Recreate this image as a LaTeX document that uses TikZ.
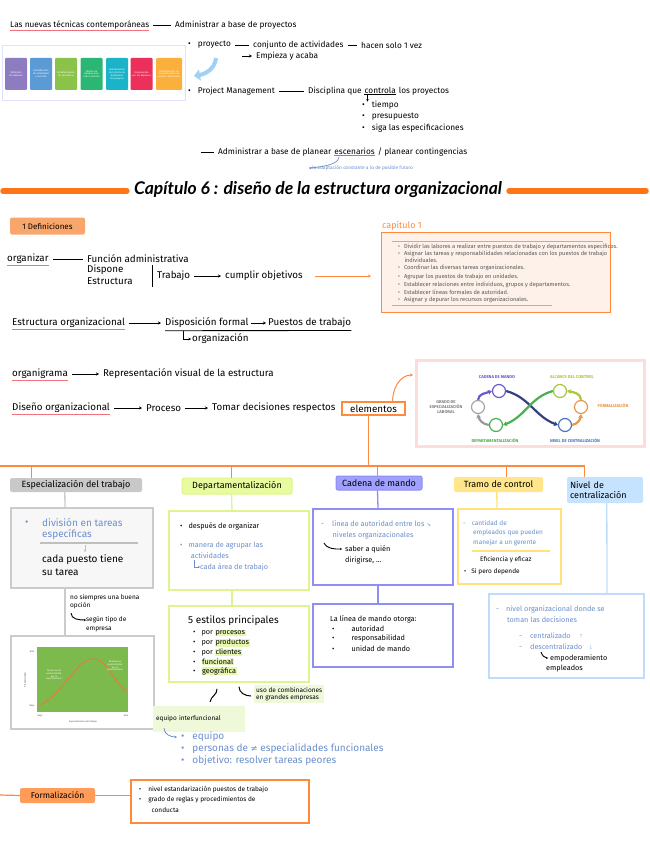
\documentclass[tikz,border=0pt]{standalone}
\usepackage{fontspec}
\setmainfont{Fira Sans}
\newfontfamily\titlefont{Lato}
\newfontfamily\symfont{DejaVu Sans}
\usetikzlibrary{arrows.meta,calc}
\definecolor{orng}{HTML}{FF8A3D}
\definecolor{barorng}{HTML}{FF7414}
\definecolor{deffill}{HTML}{F9A66C}
\definecolor{peach}{HTML}{FDF1E9}
\definecolor{txtblue}{HTML}{6C8FCB}
\definecolor{redu}{HTML}{F2727E}
\definecolor{grayfill}{HTML}{C8C8C8}
\definecolor{grayb}{HTML}{CBCBCB}
\definecolor{greenfill}{HTML}{E9FB9F}
\definecolor{greenb}{HTML}{DDF58C}
\definecolor{greenhl}{HTML}{E6F8B0}
\definecolor{paleg}{HTML}{EFF9DA}
\definecolor{purpfill}{HTML}{A0A0FF}
\definecolor{purpb}{HTML}{8E8EF5}
\definecolor{yellfill}{HTML}{FFE68A}
\definecolor{yellb}{HTML}{FFE27A}
\definecolor{bluefill}{HTML}{C5E2FF}
\definecolor{blueb}{HTML}{BFDDFB}
\definecolor{pinkb}{HTML}{FDDCDC}
\definecolor{lblue}{HTML}{9FD0F5}
\definecolor{chartg}{HTML}{7DBA4E}
\definecolor{chartc}{HTML}{E0803C}
\definecolor{stA}{HTML}{8E7CC3}
\definecolor{stB}{HTML}{5B9BD5}
\definecolor{stC}{HTML}{8BC34A}
\definecolor{stD}{HTML}{2BB673}
\definecolor{stE}{HTML}{1BB3C8}
\definecolor{stF}{HTML}{EC2F5B}
\definecolor{stG}{HTML}{FBB03B}
\definecolor{navy}{HTML}{34407F}
\definecolor{infP}{HTML}{6A5ACD}
\definecolor{infY}{HTML}{A8C83A}
\definecolor{infO}{HTML}{E8964A}
\definecolor{infB}{HTML}{4A78C0}
\definecolor{infG}{HTML}{4CAF50}
\newcommand\rbox[6][]{\node[box,#1,minimum width={(#5-#3)*1pt},minimum height={(#6-#4)*1pt}] (#2) at (#3,#4) {};}
\newcommand\hlt[1]{{\setlength\fboxsep{0.6pt}\colorbox{greenhl}{#1}}}
\tikzset{
  txt/.style={anchor=west, inner sep=0pt, font=\fontsize{8.3}{9.8}\selectfont},
  dtx/.style={anchor=west, inner sep=0pt, font=\fontsize{9.8}{11}\selectfont},
  big/.style={anchor=west, inner sep=0pt, font=\fontsize{10}{11.5}\selectfont},
  mid/.style={anchor=west, inner sep=0pt, font=\fontsize{7.3}{8.3}\selectfont},
  xs/.style={anchor=west, inner sep=0pt, font=\fontsize{6.5}{7.5}\selectfont},
  bt/.style={text=txtblue},
  box/.style={draw, rectangle, anchor=north west, inner sep=0pt, fill=white},
  lnk/.style={line width=0.8pt, shorten <=4pt, shorten >=4pt},
  arr/.style={lnk, -{Stealth[length=3pt,width=3pt]}},
  ul/.style={draw=redu, line width=0.9pt},
  stepbox/.style={rectangle, rounded corners=1pt, minimum width=22pt, minimum height=32pt, text width=20pt, align=center, inner sep=0.5pt, text=white, font=\fontsize{2.4}{2.9}\selectfont},
  catbox/.style={rectangle, rounded corners=2pt, inner sep=0pt, font=\fontsize{9}{10.5}\selectfont},
  orl/.style={draw=orng, line width=1.2pt},
  capt/.style={anchor=west, inner sep=0pt, text=black!65, font=\fontsize{5.7}{6.5}\selectfont},
  ring/.style={circle, draw, fill=white, line width=1.2pt, minimum size=13pt, inner sep=0pt},
  inflab/.style={inner sep=0pt, align=center, font=\bfseries\fontsize{4.2}{5}\selectfont},
  infarr/.style={line width=2.2pt, -{Stealth[length=4pt,width=5pt]}},
  tinyw/.style={inner sep=0pt, align=center, text=white, font=\fontsize{2.3}{2.7}\selectfont},
  tinyk/.style={inner sep=0pt, align=center, text=black!70, font=\fontsize{2.3}{2.7}\selectfont}
}
\begin{document}
\begin{tikzpicture}[x=1pt,y=-1pt]
\useasboundingbox[fill=white] (0,0) rectangle (649,848);

% ---------- top section ----------
\node[txt] (nt) at (10,25) {Las nuevas técnicas contemporáneas};
\draw[ul] ($(nt.south west)+(0,1.5)$) -- ($(nt.south east)+(0,1.5)$);
\node[txt] (ab) at (175,25) {Administrar a base de proyectos};
\draw[lnk] (nt.east) -- (ab.west);

% picture of the steps
\rbox[draw=blue!12, line width=1.2pt]{imgA}{2}{45}{185}{100}
\node[stepbox, fill=stA] (s1) at (16,74) {Definición de objetivos};
\node[stepbox, fill=stB] (s2) at (41,74) {Identificación de actividades y recursos};
\node[stepbox, fill=stC] (s3) at (66,74) {Establecimiento de secuencias};
\node[stepbox, fill=stD] (s4) at (91.5,74) {Cálculo de tiempos para cada actividad};
\node[stepbox, fill=stE] (s5) at (117,74) {Determinación de la fecha de finalización del proyecto};
\node[stepbox, fill=stF] (s6) at (141.5,74) {Comparación con los objetivos};
\node[stepbox, fill=stG, minimum width=26pt, text width=24pt] (s7) at (169,74) {Determinación de requerimientos de recursos adicionales};
\coordinate (ba1) at (216,58);
\coordinate (ba2) at (194,76);
\draw[lblue, line width=4pt, -{Triangle[length=6pt,width=11pt]}] (ba1) to[out=-95,in=10] (ba2);

\node[txt] (pr) at (188,45) {\textbullet\hspace{7pt}proyecto};
\node[txt] (ca) at (253,45) {conjunto de actividades};
\node[txt] (hs) at (361,45) {hacen solo 1 vez};
\draw[lnk] (pr.east) -- (ca.west);
\draw[lnk] (ca.east) -- (hs.west);
\node[txt] (ey) at (256,56) {Empieza y acaba};
\coordinate (eyst) at (238,56);
\draw[arr] (eyst) -- (ey.west);

\node[txt] (pm) at (188,91) {\textbullet\hspace{7pt}Project Management};
\node[txt] (dq1) at (308,91) {Disciplina que};
\node[txt, anchor=base west] (dq2) at ($(dq1.base east)+(2.6pt,0)$) {controla};
\node[txt, anchor=base west] (dq3) at ($(dq2.base east)+(2.6pt,0)$) {los proyectos};
\draw[lnk] (pm.east) -- (dq1.west);
\draw[line width=0.7pt] ($(dq2.south west)+(0,1)$) -- ($(dq2.south east)+(0,1)$);
\coordinate (dqa) at ($(dq2.south west)+(3,1)$);
\coordinate (dqb) at ($(dq2.south west)+(3,8)$);
\draw[line width=0.7pt, -{Stealth[length=2.5pt,width=2.5pt]}] (dqa) -- (dqb);
\node[txt] (l1) at (362,105) {\textbullet\hspace{7pt}tiempo};
\node[txt] (l2) at (362,117) {\textbullet\hspace{7pt}presupuesto};
\node[txt] (l3) at (362,128) {\textbullet\hspace{7pt}siga las especificaciones};

\coordinate (adst) at (197,152);
\node[txt] (ad1) at (218,152) {Administrar a base de planear};
\node[txt, anchor=base west] (ad2) at ($(ad1.base east)+(2.6pt,0)$) {escenarios};
\node[txt, anchor=base west] (ad3) at ($(ad2.base east)+(2.6pt,0)$) {/ planear contingencias};
\draw[lnk] (adst) -- (ad1.west);
\draw[txtblue, line width=0.8pt] ($(ad2.south west)+(0,1.2)$) -- ($(ad2.south east)+(0,1.2)$);
\node[anchor=west, inner sep=0pt, text=txtblue, font=\fontsize{4.8}{5.5}\selectfont] (fut) at (312,168) {la adaptación constante a lo de posible futuro};
\draw[txtblue, line width=0.7pt, -{Stealth[length=2.5pt,width=2.5pt]}] ($(ad2.south west)+(5,2)$) to[out=-90,in=180] (fut.west);

% ---------- title ----------
\node[inner sep=0pt, font=\titlefont\bfseries\itshape\fontsize{17.5}{19}\selectfont] (title) at (318,190) {Capítulo 6 : diseño de la estructura organizacional};
\draw[barorng, line width=5.5pt, line cap=round] ($(title.west)+(-7,1)$) -- (3,191);
\draw[barorng, line width=5.5pt, line cap=round] ($(title.east)+(7,1)$) -- (646,191);

% ---------- definitions ----------
\node[catbox, fill=deffill, minimum width=75pt, minimum height=17pt, font=\fontsize{8}{9}\selectfont] (def) at (47.5,226) {1 Definiciones};
\node[anchor=west, inner sep=0pt, text=orng, font=\fontsize{9}{10}\selectfont] (c1t) at (382,226) {capítulo 1};
\rbox[draw=orng, fill=peach, line width=1.3pt]{cap}{381}{232}{610}{312}
\draw[black!30, line width=0.6pt] ($(cap.north west)+(11,9)$) -- ($(cap.north east)+(-8,9)$);
\draw[black!30, line width=0.6pt] ($(cap.south west)+(11,-8)$) -- ($(cap.south west)+(171,-8)$);
\node[capt] (k1) at (398,247) {\textbullet\hspace{4pt}Dividir las labores a realizar entre puestos de trabajo y departamentos específicos.};
\node[capt] (k2) at (398,254) {\textbullet\hspace{4pt}Asignar las tareas y responsabilidades relacionadas con los puestos de trabajo};
\node[capt] (k2b) at (404.3,260.5) {individuales.};
\node[capt] (k3) at (398,268) {\textbullet\hspace{4pt}Coordinar las diversas tareas organizacionales.};
\node[capt] (k4) at (398,277) {\textbullet\hspace{4pt}Agrupar los puestos de trabajo en unidades.};
\node[capt] (k5) at (398,285) {\textbullet\hspace{4pt}Establecer relaciones entre individuos, grupos y departamentos.};
\node[capt] (k6) at (398,292.5) {\textbullet\hspace{4pt}Establecer líneas formales de autoridad.};
\node[capt] (k7) at (398,300) {\textbullet\hspace{4pt}Asignar y depurar los recursos organizacionales.};

\node[dtx] (org) at (7,259) {organizar};
\draw[ul] ($(org.south west)+(0,1.5)$) -- ($(org.south east)+(0,1.5)$);
\node[dtx] (fa) at (87,259) {Función administrativa};
\node[dtx] (dis) at (87,270) {Dispone};
\node[dtx] (est) at (87,281) {Estructura};
\draw[lnk] (org.east) -- (fa.west);
\coordinate (vb1) at (152,265);
\coordinate (vb2) at (152,287);
\draw[line width=0.8pt] (vb1) -- (vb2);
\node[dtx] (tra) at (157,276) {Trabajo};
\node[dtx] (co) at (225,276) {cumplir objetivos};
\draw[arr] (tra.east) -- (co.west);
\coordinate (coa) at (315,276);
\coordinate (cob) at (371,276);
\draw[orng, line width=1pt, -{Stealth[length=3pt,width=3pt]}] (coa) -- (cob);

\node[dtx] (eo) at (12,323) {Estructura organizacional};
\draw[ul] ($(eo.south west)+(0,1.5)$) -- ($(eo.south east)+(0,1.5)$);
\node[dtx] (df) at (165,323) {Disposición formal};
\node[dtx] (pt) at (268,323) {Puestos de trabajo};
\draw[arr] (eo.east) -- (df.west);
\draw[arr, shorten <=2pt, shorten >=2pt] (df.east) -- (pt.west);
\draw[line width=0.8pt] ($(df.south west)+(0,2.5)$) -- ($(pt.south east)+(0,2.5)$);
\node[dtx] (og2) at (192,339) {organización};
\coordinate (elb) at ($(df.south west)+(18,2.5)$);
\draw[line width=0.8pt, -{Stealth[length=2.5pt,width=2.5pt]}] (elb) |- ($(og2.west)+(-1,0)$);

\node[dtx] (ogm) at (12,374) {organigrama};
\draw[ul] ($(ogm.south west)+(0,1.5)$) -- ($(ogm.south east)+(0,1.5)$);
\node[dtx] (rv) at (103,374) {Representación visual de la estructura};
\draw[arr] (ogm.east) -- (rv.west);

\node[dtx] (dor) at (12,408) {Diseño organizacional};
\draw[ul] ($(dor.south west)+(0,1.5)$) -- ($(dor.south east)+(0,1.5)$);
\node[dtx] (proc) at (146,408) {Proceso};
\node[dtx] (tom) at (212,408) {Tomar decisiones respectos};
\draw[arr] (dor.east) -- (proc.west);
\draw[arr] (proc.east) -- (tom.west);
\node[draw=orng, line width=1.1pt, rectangle, inner sep=0pt, minimum width=63pt, minimum height=13pt, font=\fontsize{9.8}{11}\selectfont] (ele) at (373.5,408.5) {elementos};

% infinity picture
\rbox[draw=pinkb, line width=2.5pt]{imgB}{415}{359}{643}{445}
\draw[orng, line width=1pt, -{Stealth[length=3pt,width=3pt]}] ($(ele.north east)+(-13,0)$) to[out=90,in=180] ($(imgB.north west)+(-2,16)$);
\node[ring, draw=infP] (cm) at (499,391) {};
\node[ring, draw=black!35] (ge) at (478,407) {};
\node[ring, draw=infG] (dp) at (496,425) {};
\node[ring, draw=infY] (ac) at (560,391) {};
\node[ring, draw=infO] (fo) at (581,407) {};
\node[ring, draw=infB] (nc) at (565,425) {};
\draw[infarr, navy] (cm.east) to[out=-15,in=160] (nc.west);
\draw[infarr, infG] (ac.west) to[out=195,in=20] (dp.east);
\draw[infarr, infP] (ge.north) to[out=85,in=200] (cm.west);
\draw[infarr, black!40] (dp.west) to[out=175,in=-80] (ge.south);
\draw[infarr, infO] (nc.east) to[out=10,in=-95] (fo.south);
\draw[infarr, infY] (fo.north) to[out=90,in=-10] (ac.east);
\node[inflab, text=infP] (lcm) at (497,377) {CADENA DE MANDO};
\node[inflab, text=infY] (lac) at (572,377) {ALCANCE DEL CONTROL};
\node[inflab, text=black!50] (lge) at (446,407) {GRADO DE\\ESPECIALIZACIÓN\\LABORAL};
\node[inflab, text=infO] (lfo) at (613,406) {FORMALIZACIÓN};
\node[inflab, text=infG] (ldp) at (495,441) {DEPARTAMENTALIZACIÓN};
\node[inflab, text=infB] (lnc) at (575,441) {NIVEL DE CENTRALIZACIÓN};

% ---------- branching ----------
\coordinate (busL) at (0,466);
\coordinate (busR) at (585,466);
\draw[orl] ($(ele.south)+(-5,0)$) -- ++(0,51);
\draw[orl] (busL) -- (busR);

\node[catbox, fill=grayfill, minimum width=132pt, minimum height=14pt] (c1) at (76,485) {Especialización del trabajo};
\node[catbox, fill=greenfill, draw=greenb, line width=1pt, minimum width=110pt, minimum height=16pt] (c2) at (237,486) {Departamentalización};
\node[catbox, fill=purpfill, draw=purpb, line width=1pt, minimum width=86pt, minimum height=14pt] (c3) at (379,483) {Cadena de mando};
\node[catbox, fill=yellfill, minimum width=89pt, minimum height=15pt] (c4) at (498.5,484.5) {Tramo de control};
\node[catbox, fill=bluefill, minimum width=76pt, minimum height=26pt, align=left, text width=70pt] (c5) at (605,490) {Nivel de\\centralización};
\draw[orl] ($(c1.north west)+(22,0)$) -- ++(0,-12);
\draw[orl] ($(c2.north west)+(50,0)$) -- ++(0,-12);
\draw[orl] ($(c3.north west)+(42,0)$) -- ++(0,-10);
\draw[orl] ($(c4.north west)+(53,0)$) -- ++(0,-11);
\draw[orl] ($(c5.north west)+(18,0)$) -- ++(0,-11);

% ---------- especialización ----------
\rbox[draw=grayb, fill=black!3, line width=1.8pt]{b1}{10}{507}{152}{587}
\draw[grayb, line width=1.3pt] ($(c1.south west)+(55,0)$) -- ($(b1.north west)+(55,0)$);
\node[big, bt] (b1a) at (25,523) {\textbullet};
\node[big, bt] (b1b) at (42,523) {división en tareas};
\node[big, bt] (b1c) at (42,535) {específicas};
\draw[black!25, line width=1.2pt] ($(b1.north west)+(30,36)$) -- ($(b1.north west)+(128,36)$);
\draw[black!25, line width=0.7pt, -{Stealth[length=2pt,width=2.5pt]}] ($(b1.north west)+(75,38)$) -- ($(b1.north west)+(75,45)$);
\node[big] (b1d) at (42,560) {cada puesto tiene};
\node[big] (b1e) at (42,572) {su tarea};

\rbox[draw=grayb, line width=1.8pt]{ch}{10}{635}{153}{728}
\draw[grayb, line width=1.3pt] ($(b1.south west)+(55,0)$) -- ($(ch.north west)+(55,0)$);
\node[xs] (ns1) at (70,598) {no siempres una buena};
\node[xs] (ns2) at (70,606) {opción};
\node[xs] (st1) at (86,620) {según tipo de};
\node[xs] (st2) at (86,629) {empresa};
\coordinate (sta) at (71,613);
\draw[line width=0.9pt, -{Stealth[length=2.2pt,width=2.5pt]}] (sta) to[out=-90,in=180] (st1.west);
\fill[chartg] (37,647) rectangle (128,712);
\draw[chartc, line width=1.1pt] (40,705) .. controls (65,692) and (76,659) .. (93,659) .. controls (108,659) and (114,684) .. (127,691);
\node[tinyw] (cl1) at (54,675) {Ganancias de\\productividad\\por la\\especialización};
\node[tinyw] (cl2) at (115,666) {Pérdidas de\\productividad\\por la\\especialización};
\node[tinyk, rotate=90] (cy) at (25,680) {Productividad};
\node[tinyk] (cx) at (83,722) {Especialización del trabajo};
\node[tinyk] (cyh) at (32,652) {Alta};
\node[tinyk] (cyl) at (32,706) {Baja};
\node[tinyk] (cxl) at (40,716) {Baja};
\node[tinyk] (cxh) at (126,716) {Alta};

% ---------- departamentalización ----------
\rbox[draw=greenb, line width=1.8pt]{b2}{168}{510}{308}{589}
\draw[greenb, line width=1.3pt] ($(c2.south west)+(50,0)$) -- ($(b2.north west)+(64,0)$);
\node[mid] (b2a) at (180,526) {\textbullet\hspace{6pt}después de organizar};
\node[mid, bt] (b2b) at (180,546) {\textbullet\hspace{6pt}manera de agrupar las};
\node[mid, bt] (b2c) at (190.7,556) {actividades};
\node[mid, bt] (b2d) at (200,567) {cada área de trabajo};
\coordinate (b2e) at (194,560);
\draw[txtblue, line width=0.7pt, -{Stealth[length=2pt,width=2.2pt]}] (b2e) |- (b2d.west);

\rbox[draw=greenb, line width=1.8pt]{b3}{168}{605}{308}{681}
\draw[greenb, line width=1.3pt] ($(b2.south west)+(64,0)$) -- ($(b3.north west)+(64,0)$);
\node[big] (b3t) at (188,621) {5 estilos principales};
\node[mid] (e1) at (193,633) {\textbullet\hspace{6pt}por \hlt{procesos}};
\node[mid] (e2) at (193,643) {\textbullet\hspace{6pt}por \hlt{productos}};
\node[mid] (e3) at (193,652.5) {\textbullet\hspace{6pt}por \hlt{clientes}};
\node[mid] (e4) at (193,662) {\textbullet\hspace{6pt}\hlt{funcional}};
\node[mid] (e5) at (193,671) {\textbullet\hspace{6pt}\hlt{geográfica}};

\node[xs, fill=paleg, inner sep=2pt, align=left] (uso) at (254,694) {uso de combinaciones\\en grandes empresas};
\node[xs, fill=paleg, inner sep=0pt, minimum width=92pt, minimum height=26pt, text width=86pt, align=left] (eq) at (153,719) {equipo interfuncional};
\draw[line width=1pt] ($(b3.south west)+(49,6)$) to[out=-85,in=80] ($(eq.north west)+(57,-4)$);
\draw[line width=1pt] ($(b3.south west)+(71,4)$) to[out=-90,in=180] ($(uso.west)+(-3,2)$);
\node[big, bt] (q1) at (181,737) {\textbullet\hspace{8pt}equipo};
\node[big, bt] (q2) at (181,749) {\textbullet\hspace{8pt}personas de {\symfont\fontsize{8.5}{9}\selectfont ≠} especialidades funcionales};
\node[big, bt] (q3) at (181,761) {\textbullet\hspace{8pt}objetivo: resolver tareas peores};
\draw[txtblue, line width=0.8pt, -{Stealth[length=2.5pt,width=2.5pt]}] ($(eq.south west)+(11,-4)$) to[out=-90,in=180] ($(q1.west)+(-4,0)$);

% ---------- cadena de mando ----------
\rbox[draw=purpb, line width=1.8pt]{b4}{312}{508}{452}{584}
\draw[purpb, line width=1.3pt] ($(c3.south west)+(42,0)$) -- ($(b4.north west)+(66,0)$);
\node[mid, bt] (b4a) at (321,524) {-\hspace{8pt}línea de autoridad entre los {\symfont\fontsize{5.5}{6}\selectfont ↘}};
\node[mid, bt] (b4b) at (332.5,535) {niveles organizacionales};
\node[mid] (b4c) at (345,549) {saber a quién};
\node[mid] (b4d) at (345,560) {dirigirse, ...};
\coordinate (b4e) at (324,543);
\draw[line width=0.9pt, -{Stealth[length=2pt,width=2.2pt]}] (b4e) to[out=-60,in=180] ($(b4c.west)+(-3,0)$);

\rbox[draw=purpb, line width=1.8pt]{b5}{312}{603}{452}{666}
\draw[purpb, line width=1.3pt] ($(b4.south west)+(66,0)$) -- ($(b5.north west)+(66,0)$);
\node[mid] (b5a) at (330,619) {La línea de mando otorga:};
\node[mid] (b5b) at (332,628.5) {\textbullet\hspace{17pt}autoridad};
\node[mid] (b5c) at (332,638.5) {\textbullet\hspace{17pt}responsabilidad};
\node[mid] (b5d) at (332,648.5) {\textbullet\hspace{17pt}unidad de mando};

% ---------- tramo de control ----------
\rbox[draw=yellb, line width=1.8pt]{b6}{457}{508}{560}{583}
\draw[yellb, line width=1.3pt] ($(c4.south west)+(43,0)$) -- ($(b6.north west)+(40,0)$);
\node[xs, bt] (b6a) at (463,523) {-\hspace{6pt}cantidad de};
\node[xs, bt] (b6b) at (473,533) {empleados que pueden};
\node[xs, bt] (b6c) at (473,543) {manejar a un gerente};
\draw[yellb, line width=1.5pt] ($(b6.north west)+(15,43)$) -- ($(b6.north west)+(93,43)$);
\node[xs] (b6d) at (480,560) {Eficiencia y eficaz};
\node[xs] (b6e) at (464,572) {\textbullet\hspace{5pt}Si pero depende};

% ---------- nivel de centralización ----------
\rbox[draw=blueb, line width=1.8pt]{b7}{488}{593}{643}{677}
\draw[blueb, line width=1.3pt] ($(c5.south west)+(40,0)$) -- ($(b7.north west)+(119,0)$);
\node[mid, bt] (b7a) at (496,609) {-\hspace{7pt}nivel organizacional donde se};
\node[mid, bt] (b7b) at (507,620) {toman las decisiones};
\node[mid, bt] (b7c) at (519,636) {-\hspace{8pt}centralizado\hspace{8pt}{\symfont\fontsize{6}{6}\selectfont\color{lblue}↑}};
\node[mid, bt] (b7d) at (519,647) {-\hspace{8pt}descentralizado\hspace{6pt}{\symfont\fontsize{6}{6}\selectfont\color{lblue}↓}};
\node[mid] (b7e) at (550,658) {empoderamiento};
\node[mid] (b7f) at (546,669) {empleados};
\coordinate (b7g) at (541,652);
\draw[line width=0.9pt, -{Stealth[length=2pt,width=2.2pt]}] (b7g) to[out=-70,in=180] ($(b7e.west)+(-2,0)$);

% ---------- formalización ----------
\coordinate (fst) at (0,795);
\node[catbox, fill=orng!85, minimum width=75pt, minimum height=15pt, font=\fontsize{8.5}{9.5}\selectfont] (form) at (57.5,795.5) {Formalización};
\rbox[draw=orng, line width=1.8pt]{b8}{130}{779}{308}{822}
\draw[orl] (fst) -- (form.west);
\draw[orl] (form.east) -- (form.east -| b8.west);
\node[xs] (f1) at (139,790) {\textbullet\hspace{7pt}nivel estandarización puestos de trabajo};
\node[xs] (f2) at (139,800) {\textbullet\hspace{7pt}grado de reglas y procedimientos de};
\node[xs] (f3) at (151.5,810) {conducta};
\end{tikzpicture}
\end{document}
